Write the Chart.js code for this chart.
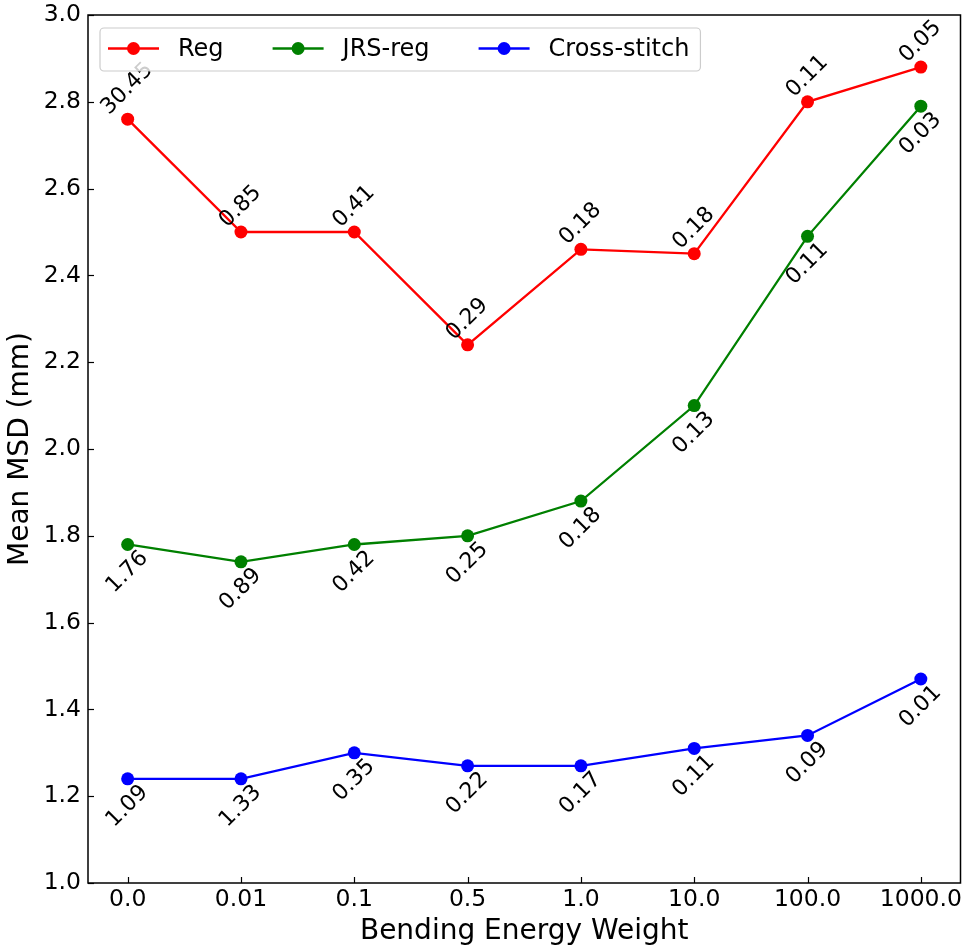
<!DOCTYPE html>
<html>
<head>
<meta charset="utf-8">
<script src="https://cdn.jsdelivr.net/npm/chart.js@4"></script>
<style>
  html, body { margin: 0; padding: 0; background: #fff; }
  #wrap { width: 967px; height: 947px; }
</style>
</head>
<body>
<div id="wrap"><canvas id="msdChart" width="967" height="947"></canvas></div>
<script>
const weights = ['0.0', '0.01', '0.1', '0.5', '1.0', '10.0', '100.0', '1000.0'];
const yTicks = [1.0, 1.2, 1.4, 1.6, 1.8, 2.0, 2.2, 2.4, 2.6, 2.8, 3.0];

const regMsd   = [2.76, 2.50, 2.50, 2.24, 2.46, 2.45, 2.80, 2.88];
const jrsMsd   = [1.78, 1.74, 1.78, 1.80, 1.88, 2.10, 2.49, 2.79];
const crossMsd = [1.24, 1.24, 1.30, 1.27, 1.27, 1.31, 1.34, 1.47];

// numbers written next to each point
const regNotes   = ['30.45', '0.85', '0.41', '0.29', '0.18', '0.18', '0.11', '0.05'];
const jrsNotes   = ['1.76', '0.89', '0.42', '0.25', '0.18', '0.13', '0.11', '0.03'];
const crossNotes = ['1.09', '1.33', '0.35', '0.22', '0.17', '0.11', '0.09', '0.01'];

const FONT = '"DejaVu Sans", sans-serif';

function series(label, values, notes, color, above) {
  return {
    label: label,
    data: values.map((v, i) => ({ x: i, y: v })),
    notes: notes,
    above: above,
    borderColor: color,
    backgroundColor: color,
    pointBackgroundColor: color,
    pointBorderWidth: 0,
    pointRadius: 6.5,
    pointHoverRadius: 6.5,
    borderWidth: 2.3,
    tension: 0,
    fill: false
  };
}

// frame + inward ticks like matplotlib
const frameTicks = {
  id: 'frameTicks',
  afterDatasetsDraw(chart) {
    const { ctx, chartArea: a, scales } = chart;
    ctx.save();
    ctx.strokeStyle = '#000';
    ctx.lineWidth = 1.2;
    scales.x.ticks.forEach(t => {
      const px = Math.round(scales.x.getPixelForValue(t.value)) + 0.5;
      ctx.beginPath(); ctx.moveTo(px, a.bottom); ctx.lineTo(px, a.bottom - 6); ctx.stroke();
    });
    scales.y.ticks.forEach(t => {
      const py = Math.round(scales.y.getPixelForValue(t.value)) + 0.5;
      ctx.beginPath(); ctx.moveTo(a.left, py); ctx.lineTo(a.left + 6, py); ctx.stroke();
    });
    ctx.lineWidth = 1.5;
    ctx.strokeRect(a.left, a.top, a.right - a.left, a.bottom - a.top);
    ctx.restore();
  }
};

const annotate = {
  id: 'annotate',
  afterDatasetsDraw(chart) {
    const ctx = chart.ctx;
    const xs = chart.scales.x, ys = chart.scales.y;
    const size = 22;
    ctx.save();
    ctx.font = size + 'px ' + FONT;
    ctx.fillStyle = '#000';
    ctx.textAlign = 'center';
    ctx.textBaseline = 'alphabetic';
    chart.data.datasets.forEach(ds => {
      ds.data.forEach((p, i) => {
        const txt = ds.notes[i];
        const px = xs.getPixelForValue(p.x);
        const py = ys.getPixelForValue(p.y);
        const L = ctx.measureText(txt).width;
        const H = size * 0.73;
        const half = (L + H) / Math.SQRT2 / 2;
        const cx = px - 2;
        const cy = ds.above ? py - 4 - half : py + 3 + half;
        ctx.save();
        ctx.translate(cx, cy);
        ctx.rotate(-Math.PI / 4);
        ctx.fillText(txt, 0, H / 2);
        ctx.restore();
      });
    });
    ctx.restore();
  }
};

const boxLegend = {
  id: 'boxLegend',
  afterDraw(chart) {
    const { ctx, chartArea: a } = chart;
    const left = a.left + 12, top = a.top + 13, h = 43;
    const midY = top + h / 2 - 1;
    ctx.save();
    ctx.font = '24px ' + FONT;
    // work out the width first
    let x = left + 8;
    const items = chart.data.datasets.map(ds => {
      const w = ctx.measureText(ds.label).width;
      const it = { x: x, ds: ds, w: w };
      x += 70 + w + 49;
      return it;
    });
    const right = x - 49 + 11;
    ctx.beginPath();
    ctx.roundRect(left, top, right - left, h, 4);
    ctx.fillStyle = 'rgba(255,255,255,0.8)';
    ctx.fill();
    ctx.strokeStyle = '#cccccc';
    ctx.lineWidth = 1.2;
    ctx.stroke();
    items.forEach(it => {
      ctx.strokeStyle = it.ds.borderColor;
      ctx.fillStyle = it.ds.borderColor;
      ctx.lineWidth = 2.3;
      ctx.beginPath(); ctx.moveTo(it.x, midY); ctx.lineTo(it.x + 51, midY); ctx.stroke();
      ctx.beginPath(); ctx.arc(it.x + 25.5, midY, 6.5, 0, Math.PI * 2); ctx.fill();
      ctx.fillStyle = '#000';
      ctx.textAlign = 'left';
      ctx.textBaseline = 'middle';
      ctx.fillText(it.ds.label, it.x + 70, midY + 1);
    });
    ctx.restore();
  }
};

new Chart(document.getElementById('msdChart'), {
  type: 'line',
  data: {
    datasets: [
      series('Reg', regMsd, regNotes, '#ff0000', true),
      series('JRS-reg', jrsMsd, jrsNotes, '#008000', false),
      series('Cross-stitch', crossMsd, crossNotes, '#0000ff', false)
    ]
  },
  options: {
    responsive: false,
    animation: false,
    events: [],
    layout: { padding: { top: 15, right: 5, left: 0, bottom: 0 } },
    plugins: {
      legend: { display: false },
      tooltip: { enabled: false }
    },
    scales: {
      x: {
        type: 'linear',
        min: -0.35,
        max: weights.length - 1 + 0.35,
        afterBuildTicks: s => { s.ticks = weights.map((_, i) => ({ value: i })); },
        afterFit: s => { s.height = 64; s.paddingLeft = 0; s.paddingRight = 0; },
        grid: { display: false, drawTicks: false },
        border: { display: false },
        ticks: {
          padding: 3,
          color: '#000',
          font: { family: FONT, size: 23.5 },
          maxRotation: 0,
          autoSkip: false,
          callback: v => weights[v]
        },
        title: {
          display: true,
          text: 'Bending Energy Weight',
          color: '#000',
          font: { family: FONT, size: 28, lineHeight: 1.1 },
          padding: { top: 0, bottom: 0 }
        }
      },
      y: {
        min: yTicks[0],
        max: yTicks[yTicks.length - 1],
        afterBuildTicks: s => { s.ticks = yTicks.map(v => ({ value: v })); },
        afterFit: s => { s.width = 88; s.paddingTop = 0; s.paddingBottom = 0; },
        grid: { display: false, drawTicks: false },
        border: { display: false },
        ticks: {
          padding: 7,
          color: '#000',
          font: { family: FONT, size: 23.5 },
          autoSkip: false,
          callback: v => v.toFixed(1)
        },
        title: {
          display: true,
          text: 'Mean MSD (mm)',
          color: '#000',
          font: { family: FONT, size: 28, lineHeight: 1.2 },
          padding: { top: 4, bottom: 0 }
        }
      }
    }
  },
  plugins: [frameTicks, annotate, boxLegend]
});
</script>
</body>
</html>
